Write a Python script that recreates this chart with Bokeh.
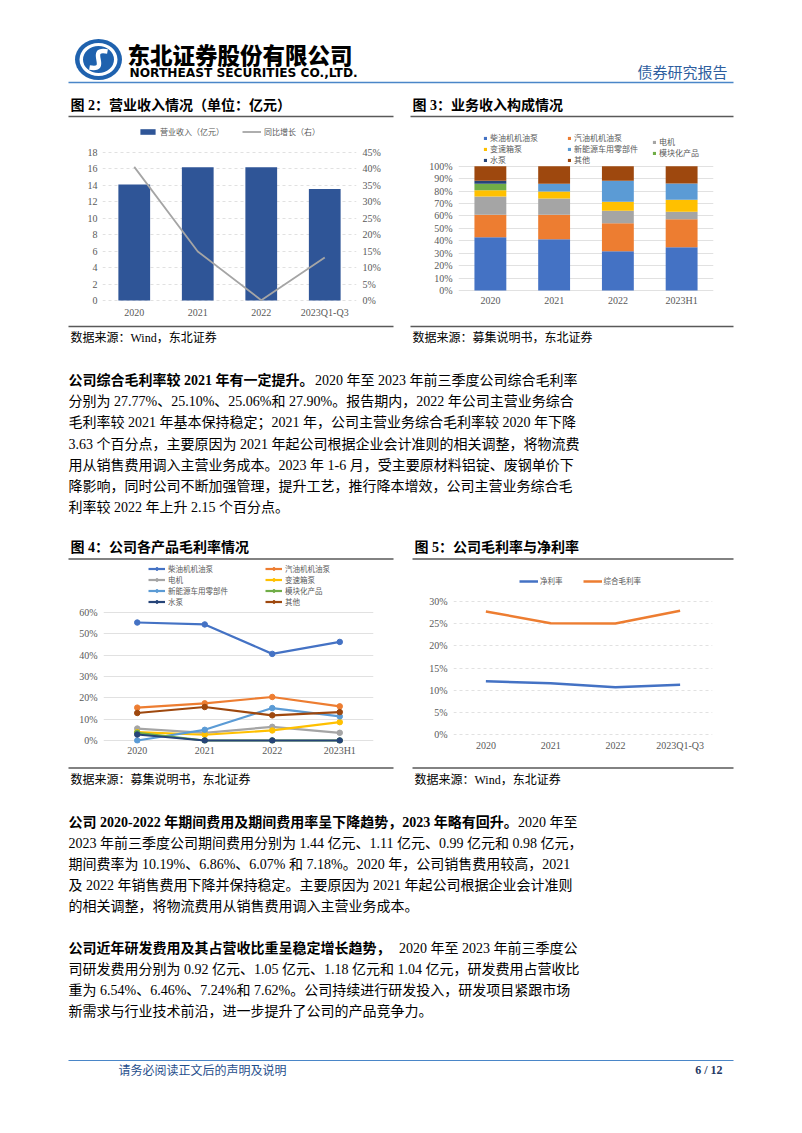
from bokeh.plotting import figure
from bokeh.models import (Range1d, FactorRange, LinearAxis, FixedTicker, Legend,
                          LegendItem, Spacer, ColumnDataSource)
from bokeh.layouts import column, row
from bokeh.embed import file_html
from bokeh.resources import INLINE
from bokeh.core.properties import value

# ---------------- data ----------------
rev_periods = ["2020", "2021", "2022", "2023Q1-Q3"]
revenue = [14.1, 16.2, 16.2, 13.55]          # 营业收入（亿元）
revenue_yoy = [40.6, 14.9, 0.1, 13.1]        # 同比增长（%）
rev_ticks = [0, 2, 4, 6, 8, 10, 12, 14, 16, 18]
yoy_ticks = [0, 5, 10, 15, 20, 25, 30, 35, 40, 45]

mix_periods = ["2020", "2021", "2022", "2023H1"]
segment_names = ["柴油机机油泵", "汽油机机油泵", "电机", "变速箱泵",
                 "新能源车用零部件", "模块化产品", "水泵", "其他"]
segment_colors = ["#4472C4", "#ED7D31", "#A5A5A5", "#FFC000",
                  "#5B9BD5", "#70AD47", "#264478", "#9E480E"]
mix_diesel = [42.9, 41.3, 31.7, 34.9]
mix_gasoline = [18.2, 19.8, 22.4, 22.4]
mix_motor = [14.6, 13.0, 10.2, 6.2]
mix_gearbox = [5.1, 5.6, 7.2, 9.6]
mix_nev = [0.0, 6.2, 16.8, 13.0]
mix_module = [5.1, 0.0, 0.0, 0.0]
mix_water = [2.4, 0.0, 0.0, 0.0]
mix_other = [11.7, 14.1, 11.7, 13.9]
mix_ticks = [0, 10, 20, 30, 40, 50, 60, 70, 80, 90, 100]

margin_diesel = [55.3, 54.4, 40.6, 46.2]
margin_gasoline = [15.4, 17.4, 20.4, 16.0]
margin_motor = [5.6, 3.6, 6.4, 3.6]
margin_gearbox = [3.9, 2.7, 4.7, 8.6]
margin_nev = [0.0, 5.0, 15.2, 11.3]
margin_module = [3.6, 0.0, 0.0, 0.0]
margin_water = [2.8, 0.0, 0.0, 0.0]
margin_other = [12.9, 15.7, 11.8, 13.3]
margin_ticks = [0, 10, 20, 30, 40, 50, 60]

net_margin = [12.0, 11.55, 10.65, 11.25]
gross_margin = [27.77, 25.10, 25.06, 27.90]
gm_ticks = [0, 5, 10, 15, 20, 25, 30]

BODY = "Liberation Serif, Noto Sans CJK SC"
CJK = "Noto Sans CJK SC"
LEG = "Liberation Sans, Noto Sans CJK SC"
W = 802


# ---------------- helpers ----------------
def band(y0, y1):
    p = figure(width=W, height=y1 - y0, x_range=Range1d(0, W), y_range=Range1d(y1, y0),
               output_backend="svg", toolbar_location=None, title=None,
               x_axis_location=None, y_axis_location=None,
               min_border_left=0, min_border_right=0, min_border_top=0, min_border_bottom=0)
    p.grid.visible = False
    p.outline_line_color = None
    return p


def put(p, x, y, s, size, color="#000000", bold=False, font=BODY, align="left"):
    p.text(x=[x], y=[y], text=[s], text_font=value(font), text_font_size=f"{size}px",
           text_color=color, text_font_style="bold" if bold else "normal",
           text_align=align, text_baseline="middle")


def rule(p, x0, x1, y, color="#595959", width=1.3):
    p.segment(x0=[x0], y0=[y], x1=[x1], y1=[y], line_color=color, line_width=width)


def chart(width, periods, yr, left, right, top, bottom):
    return figure(width=width, height=198, x_range=FactorRange(*periods), y_range=Range1d(*yr),
                  output_backend="svg", toolbar_location=None, title=None,
                  min_border_left=left, min_border_right=right,
                  min_border_top=top, min_border_bottom=bottom)


def style_chart(p, xstand, ystand):
    p.outline_line_color = None
    p.xgrid.visible = False
    p.ygrid.grid_line_color = "#D9D9D9"
    p.ygrid.grid_line_width = 0.8
    for ax in p.axis:
        ax.axis_line_color = None
        ax.major_tick_line_color = None
        ax.minor_tick_line_color = None
        ax.major_tick_out = 0
        ax.major_tick_in = 0
        ax.minor_tick_out = 0
        ax.minor_tick_in = 0
        ax.major_label_text_font = "Liberation Serif"
        ax.major_label_text_font_size = "10px"
        ax.major_label_text_color = "#595959"
    p.xaxis.major_label_standoff = xstand
    p.yaxis.major_label_standoff = ystand


def legend(items, loc, orientation="vertical", gw=4, gh=4, lh=8, spacing=0,
           size="8px", standoff=3, line_height=1.2):
    # loc = bottom-left corner of the legend, measured from the frame's bottom-left
    return Legend(items=items, location=loc, orientation=orientation,
                  glyph_width=gw, glyph_height=gh, label_height=lh, spacing=spacing,
                  label_standoff=standoff, padding=0, margin=0,
                  border_line_color=None, background_fill_alpha=0,
                  label_text_font=LEG, label_text_font_size=size,
                  label_text_line_height=line_height,
                  label_text_color="#595959")


# ---------------- band 1: header + titles (page y 0..122) ----------------
b1 = band(0, 122)
b1.ellipse(x=[98], y=[59], width=[47], height=[41], fill_color="#1F62AE", line_color=None)
b1.ellipse(x=[98], y=[59], width=[38], height=[33], fill_color="white", line_color=None)
b1.ellipse(x=[98], y=[59], width=[31], height=[27], fill_color="#1F62AE", line_color=None)
b1.bezier(x0=[107], y0=[51], x1=[89], y1=[67], cx0=[85], cy0=[47], cx1=[111], cy1=[71],
          line_color="white", line_width=4.5)
put(b1, 127, 53, "东北证券股份有限公司", 22.5, bold=True, font="Noto Sans CJK SC Black, Noto Sans CJK SC")
put(b1, 129, 72, "NORTHEAST SECURITIES CO.,LTD.", 12.2, bold=True, font="DejaVu Sans")
put(b1, 727, 71, "债券研究报告", 15, color="#2E5E9E", font=CJK, align="right")
rule(b1, 68, 733, 82, color="#4A86C8", width=1.6)
put(b1, 70, 105, "图 2：营业收入情况（单位：亿元）", 14, bold=True)
put(b1, 412, 105, "图 3：业务收入构成情况", 14, bold=True)
rule(b1, 68, 393, 116)
rule(b1, 410, 733, 116)

# ---------------- chart 2: revenue (row 1: page y 122..320, frame 127..303) ----------------
p2 = chart(332, rev_periods, (-0.24, 21.02), 34, 44, 5, 17)
p2.extra_y_ranges = {"pct": Range1d(-0.6, 52.55)}
p2.yaxis.ticker = FixedTicker(ticks=rev_ticks)
ax_r = LinearAxis(y_range_name="pct", ticker=FixedTicker(ticks=yoy_ticks),
                  major_label_overrides={t: f"{t}%" for t in yoy_ticks})
p2.add_layout(ax_r, "right")
style_chart(p2, 4, 5)
ax_r.major_label_standoff = 6
p2.ygrid.grid_line_dash = "3 3"
r_bar = p2.vbar(x=rev_periods, top=revenue, width=0.5, fill_color="#2F5597", line_color=None)
r_yoy = p2.line(x=rev_periods, y=revenue_yoy, y_range_name="pct", line_color="#A5A5A5", line_width=1.8)
p2.add_layout(legend([LegendItem(label="营业收入（亿元）", renderers=[r_bar]),
                      LegendItem(label="同比增长（右）", renderers=[r_yoy])],
                     (36, 165), orientation="horizontal", gw=19, gh=7, lh=8, spacing=18))

# ---------------- chart 3: revenue mix ----------------
src3 = ColumnDataSource(dict(period=mix_periods, diesel=mix_diesel, gasoline=mix_gasoline,
                             motor=mix_motor, gearbox=mix_gearbox, nev=mix_nev,
                             module=mix_module, water=mix_water, other=mix_other))
keys = ["diesel", "gasoline", "motor", "gearbox", "nev", "module", "water", "other"]
p3 = chart(340, mix_periods, (-9.6, 131.2), 58, 27, 5, 17)
p3.yaxis.ticker = FixedTicker(ticks=mix_ticks)
p3.yaxis.major_label_overrides = {t: f"{t}%" for t in mix_ticks}
style_chart(p3, -8, 6)
rs3 = p3.vbar_stack(keys, x="period", width=0.5, color=segment_colors, line_color=None, source=src3)
it3 = [LegendItem(label=n, renderers=[r]) for n, r in zip(segment_names, rs3)]
# an empty, invisible slot so the short third column lines up with the others
blank = p3.vbar(x=[], top=[], width=0.5, fill_alpha=0, line_alpha=0)
it3.append(LegendItem(label=" ", renderers=[blank]))
for cols, vx in (([0, 3, 6], 25), ([1, 4, 7], 109), ([2, 5, 8], 194)):
    p3.add_layout(legend([it3[i] for i in cols], (vx, 137), gw=4, gh=4, lh=7,
                         spacing=0, line_height=0.8))

# ---------------- band 3: sources, paragraph 1, titles (page y 320..562) ----------------
b3 = band(320, 562)
rule(b3, 68, 393, 326)
rule(b3, 410, 733, 326)
put(b3, 70, 337, "数据来源：Wind，东北证券", 12)
put(b3, 412, 337, "数据来源：募集说明书，东北证券", 12)
p1_lines = [
    "分别为 27.77%、25.10%、25.06%和 27.90%。报告期内，2022  年公司主营业务综合",
    "毛利率较 2021 年基本保持稳定；2021 年，公司主营业务综合毛利率较 2020 年下降",
    "3.63 个百分点，主要原因为 2021 年起公司根据企业会计准则的相关调整，将物流费",
    "用从销售费用调入主营业务成本。2023 年 1-6 月，受主要原材料铝锭、废钢单价下",
    "降影响，同时公司不断加强管理，提升工艺，推行降本增效，公司主营业务综合毛",
    "利率较 2022 年上升 2.15 个百分点。",
]
put(b3, 68, 380, "公司综合毛利率较 2021 年有一定提升。", 14, bold=True)
put(b3, 577, 380, "2020 年至 2023 年前三季度公司综合毛利率", 14, align="right")
for i, s in enumerate(p1_lines):
    put(b3, 68, 380 + 21.2 * (i + 1), s, 14)
put(b3, 70, 547, "图 4：公司各产品毛利率情况", 14, bold=True)
put(b3, 414, 547, "图 5：公司毛利率与净利率", 14, bold=True)
rule(b3, 68, 393, 558.5)
rule(b3, 412, 733, 558.5)

# ---------------- chart 4: product margins (row 2: page y 562..760, frame 564..743) ----------------
p4 = chart(332, mix_periods, (-1.41, 82.5), 35, 27, 2, 17)
p4.yaxis.ticker = FixedTicker(ticks=margin_ticks)
p4.yaxis.major_label_overrides = {t: f"{t}%" for t in margin_ticks}
style_chart(p4, 1, 6)
margins = [margin_diesel, margin_gasoline, margin_motor, margin_gearbox,
           margin_nev, margin_module, margin_water, margin_other]
it4 = []
for name, col, vals in zip(segment_names, segment_colors, margins):
    rl = p4.line(x=mix_periods, y=vals, line_color=col, line_width=2.2)
    rm = p4.scatter(x=mix_periods, y=vals, size=5.5, fill_color=col, line_color=col)
    it4.append(LegendItem(label=name, renderers=[rl, rm]))
for cols, vx in (([0, 2, 4, 6], 45), ([1, 3, 5, 7], 162)):
    p4.add_layout(legend([it4[i] for i in cols], (vx, 136), gw=17, gh=7, lh=7,
                         spacing=0, size="7.5px", standoff=3, line_height=0.8))

# ---------------- chart 5: gross / net margin ----------------
p5 = chart(340, rev_periods, (-2.03, 38.35), 53, 28, 2, 17)
p5.yaxis.ticker = FixedTicker(ticks=gm_ticks)
p5.yaxis.major_label_overrides = {t: f"{t}%" for t in gm_ticks}
style_chart(p5, -4, 6)
p5.ygrid.grid_line_dash = "3 3"
r_net = p5.line(x=rev_periods, y=net_margin, line_color="#4472C4", line_width=2.5)
r_gm = p5.line(x=rev_periods, y=gross_margin, line_color="#ED7D31", line_width=2.5)
p5.add_layout(legend([LegendItem(label="净利率", renderers=[r_net]),
                      LegendItem(label="综合毛利率", renderers=[r_gm])],
                     (66, 157), orientation="horizontal", gw=19, gh=8, lh=8,
                     spacing=20, size="7.5px", standoff=2))

# ---------------- band 5: sources, paragraphs 2-3, footer (page y 760..1130) ----------------
b5 = band(760, 1130)
rule(b5, 68, 393, 767.5)
rule(b5, 412, 733, 767.5)
put(b5, 70, 779, "数据来源：募集说明书，东北证券", 12)
put(b5, 414, 779, "数据来源：Wind，东北证券", 12)
put(b5, 68, 822, "公司 2020-2022 年期间费用及期间费用率呈下降趋势，2023 年略有回升。", 14, bold=True)
put(b5, 577, 822, "2020 年至", 14, align="right")
p2_lines = [
    "2023 年前三季度公司期间费用分别为 1.44 亿元、1.11 亿元、0.99 亿元和 0.98 亿元，",
    "期间费率为 10.19%、6.86%、6.07% 和 7.18%。2020 年，公司销售费用较高，2021",
    "及 2022 年销售费用下降并保持稳定。主要原因为 2021 年起公司根据企业会计准则",
    "的相关调整，将物流费用从销售费用调入主营业务成本。",
]
for i, s in enumerate(p2_lines):
    put(b5, 68, 822 + 21 * (i + 1), s, 14)
put(b5, 68, 948, "公司近年研发费用及其占营收比重呈稳定增长趋势，", 14, bold=True)
put(b5, 577, 948, "2020 年至 2023 年前三季度公", 14, align="right")
p3_lines = [
    "司研发费用分别为 0.92 亿元、1.05 亿元、1.18 亿元和 1.04 亿元，研发费用占营收比",
    "重为 6.54%、6.46%、7.24%和 7.62%。公司持续进行研发投入，研发项目紧跟市场",
    "新需求与行业技术前沿，进一步提升了公司的产品竞争力。",
]
for i, s in enumerate(p3_lines):
    put(b5, 68, 948 + 21 * (i + 1), s, 14)
rule(b5, 68, 733, 1060, color="#4A86C8", width=1.2)
put(b5, 118, 1069, "请务必阅读正文后的声明及说明", 12, color="#1F4E8C", font=CJK)
put(b5, 722, 1069, "6 / 12", 12, color="#1F3864", bold=True, font="Liberation Serif", align="right")

# ---------------- page ----------------
page = column(
    b1,
    row(Spacer(width=68, height=198), p2, p3, Spacer(width=62, height=198)),
    b3,
    row(Spacer(width=68, height=198), p4, p5, Spacer(width=62, height=198)),
    b5,
)

open("out.html", "w").write(file_html(page, INLINE))
